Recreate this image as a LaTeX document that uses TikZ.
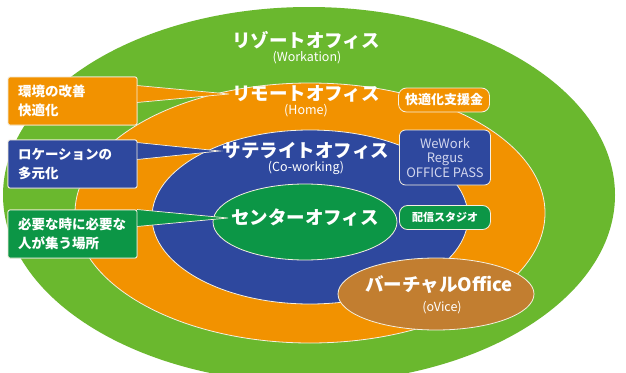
\documentclass[tikz,border=0pt]{standalone}
\usepackage{fontspec}
\newfontfamily\jp{Noto Sans CJK JP}
\usetikzlibrary{calc}
\definecolor{resortgreen}{RGB}{106,184,46}
\definecolor{remoteorange}{RGB}{242,146,0}
\definecolor{satblue}{RGB}{46,72,158}
\definecolor{centergreen}{RGB}{12,150,70}
\definecolor{virtbrown}{RGB}{194,126,48}
\definecolor{paletext}{RGB}{210,214,238}
\definecolor{rimwhite}{RGB}{245,240,225}

\begin{document}
\begin{tikzpicture}[x=1pt,y=-1pt,
  rim/.style={draw=rimwhite, line width=0.8pt},
  title/.style={font=\jp\bfseries\fontsize{18.5}{20}\selectfont, text=white, inner sep=0pt},
  sub/.style={font=\jp\fontsize{12.5}{14}\selectfont, text=white, inner sep=0pt},
  sidebox/.style={draw=rimwhite, line width=0.8pt, rounded corners=2pt,
    minimum width=129pt, minimum height=48pt, text width=109pt,
    inner xsep=10pt, inner ysep=0pt, align=left, text=white,
    font=\jp\bfseries\fontsize{13.5}{19}\selectfont},
  tagbox/.style={draw=rimwhite, line width=0.8pt, rounded corners=8pt,
    minimum width=91pt, minimum height=24pt, inner sep=0pt, text=white,
    align=center},
  wedgeside/.style={draw=rimwhite, line width=0.7pt}
]
\useasboundingbox (0,0) rectangle (626,372);
\fill[white] (0,0) rectangle (626,372);

% nested office rings
\begin{scope}
  \clip (0,0) rectangle (626,372);
  \fill[resortgreen] (309,195) ellipse [x radius=306pt, y radius=188pt];
  \filldraw[fill=remoteorange, rim] (310,213) ellipse [x radius=235pt, y radius=130pt];
  \filldraw[fill=satblue, rim] (310,217) ellipse [x radius=158pt, y radius=87pt];
  \filldraw[fill=centergreen, rim] (305,222) ellipse [x radius=92pt, y radius=38pt];
  \filldraw[fill=virtbrown, rim] (436,294) ellipse [x radius=98pt, y radius=36pt];
\end{scope}

% ring titles
\node[title] (resort) at (306,40) {リゾートオフィス};
\node[sub]   (resortsub) at (307,58) {(Workation)};
\node[title] (remote) at (306,94) {リモートオフィス};
\node[sub]   (remotesub) at (306,111) {(Home)};
\node[title] (sat) at (306,151) {サテライトオフィス};
\node[sub]   (satsub) at (306,168) {(Co-working)};
\node[title] (center) at (305,218) {センターオフィス};
\node[title] (virt) at (439,285) {バーチャルOffice};
\node[sub]   (virtsub) at (442,308) {(oVice)};

% side notes
\node[sidebox, fill=remoteorange] (env) at (72.5,101) {環境の改善\\快適化};
\node[sidebox, fill=satblue]      (loc) at (72.5,164) {ロケーションの\\多元化};
\node[sidebox, fill=centergreen]  (need) at (72.5,234) {必要な時に必要な\\人が集う場所};

% callout wedges from the side notes to the titles
\foreach \bx/\ttl/\col in {env/remote/remoteorange, loc/sat/satblue, need/center/centergreen}{
  \coordinate (\bx-a) at ($(\bx.east |- \ttl.west)+(-0.5,-8.5)$);
  \coordinate (\bx-b) at ($(\bx.east |- \ttl.west)+(-0.5,8.5)$);
  \coordinate (\bx-tip) at ($(\ttl.west)+(-3,0)$);
  \fill[\col] (\bx-a) -- (\bx-tip) -- (\bx-b) -- cycle;
  \draw[wedgeside] (\bx-a) -- (\bx-tip) -- (\bx-b);
}
% redraw the notes over the wedge bases
\node[sidebox, fill=remoteorange] at (env) {環境の改善\\快適化};
\node[sidebox, fill=satblue]      at (loc) {ロケーションの\\多元化};
\node[sidebox, fill=centergreen]  at (need) {必要な時に必要な\\人が集う場所};

% tags on the right
\node[tagbox, fill=remoteorange, font=\jp\bfseries\fontsize{13}{15}\selectfont]
  (grant) at (444,100) {快適化支援金};
\node[tagbox, fill=satblue, rounded corners=6pt, minimum height=55pt,
  text=paletext, font=\jp\fontsize{13}{14.5}\selectfont]
  (brands) at (445,157.5) {WeWork\\Regus\\OFFICE PASS};
\node[tagbox, fill=centergreen, font=\jp\bfseries\fontsize{11}{13}\selectfont]
  (studio) at (445,217.5) {配信スタジオ};
\end{tikzpicture}
\end{document}
